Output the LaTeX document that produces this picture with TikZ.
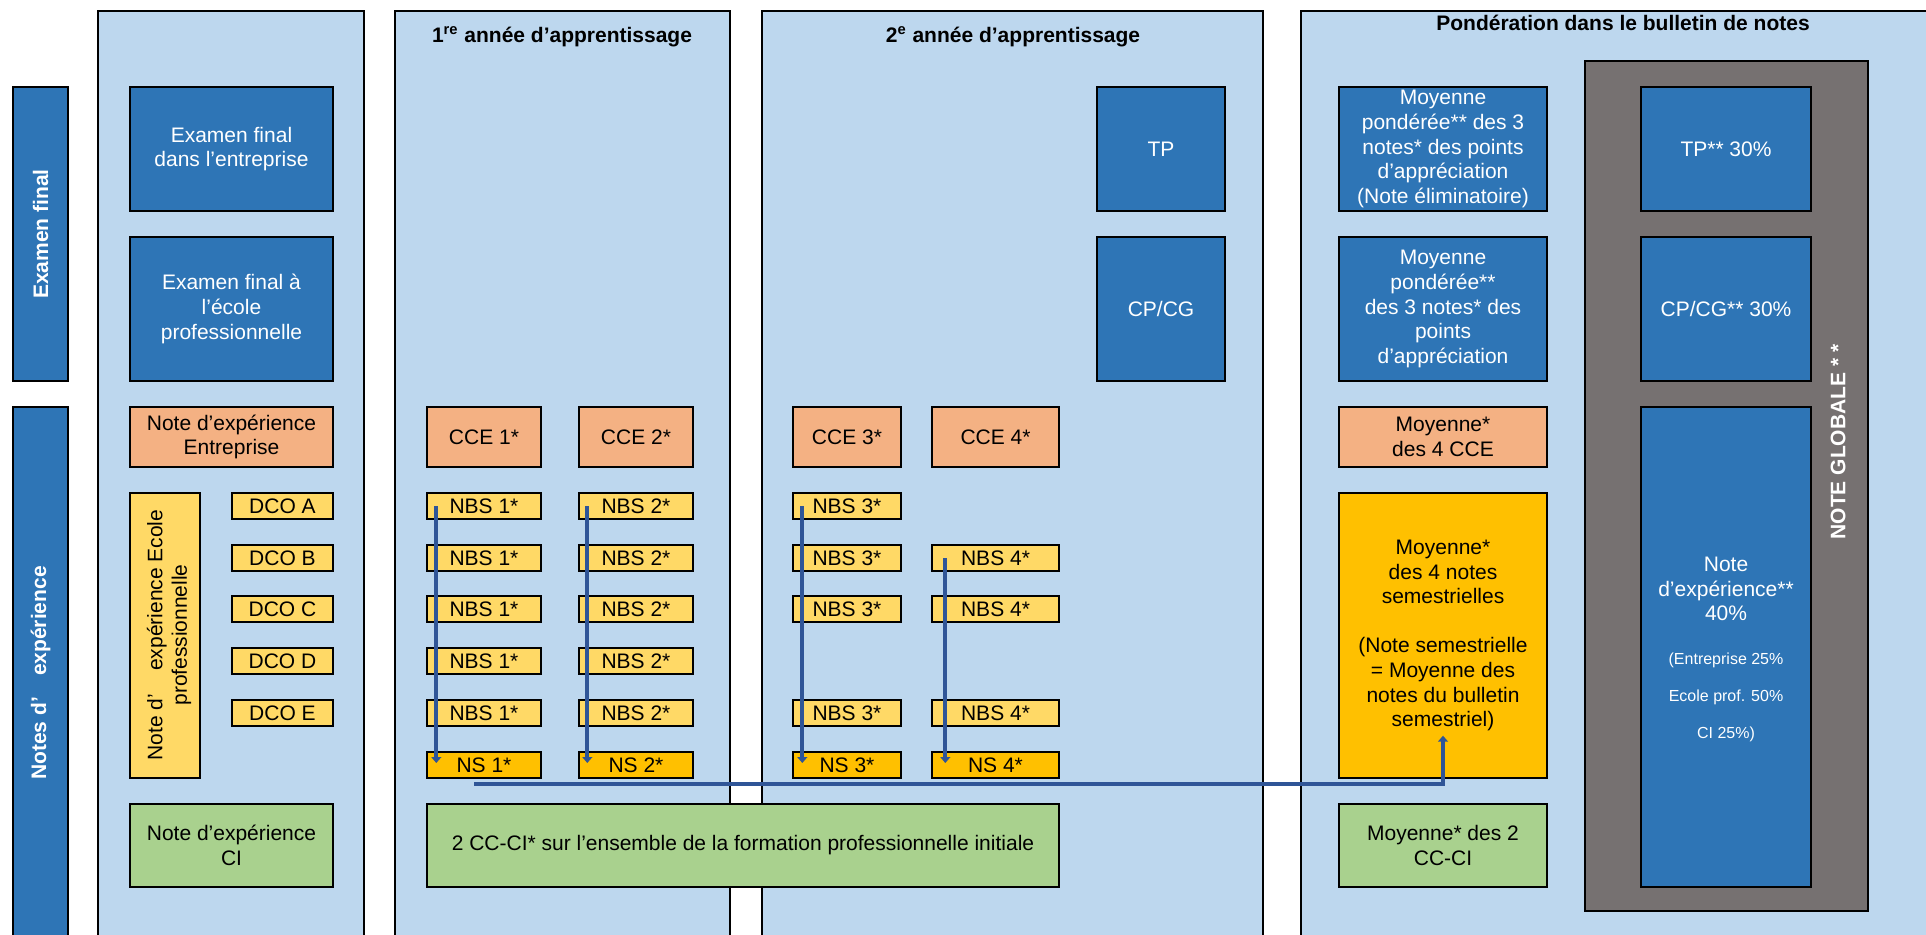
\documentclass[tikz,border=0pt]{standalone}
\usepackage{fontspec}
\setmainfont{Liberation Sans}
\usetikzlibrary{arrows.meta,calc}
\definecolor{panelc}{HTML}{BDD7EE}
\definecolor{dblue}{HTML}{2E75B6}
\definecolor{orangec}{HTML}{F4B183}
\definecolor{yellowc}{HTML}{FFD966}
\definecolor{goldc}{HTML}{FFC000}
\definecolor{greenc}{HTML}{A9D18E}
\definecolor{grayc}{HTML}{767171}
\definecolor{arrowc}{HTML}{2F5597}
\newcommand\fsz{\fontsize{10.5}{12.3}\selectfont}
\newcommand\bxnode[7]{\node[#1, minimum width={(#5-#3)*0.5pt}, minimum height={(#6-#4)*0.5pt}] (#2) at ({(#3+#5)/2},{(#4+#6)/2}) {#7};}
\tikzset{
  cbox/.style={draw=black, line width=0.7pt, inner sep=0pt, align=center, font=\fsz, text=black},
  panelb/.style={cbox, fill=panelc, line width=0.8pt},
  blueb/.style={cbox, fill=dblue, text=white},
  orb/.style={cbox, fill=orangec},
  yelb/.style={cbox, fill=yellowc},
  goldb/.style={cbox, fill=goldc},
  greenb/.style={cbox, fill=greenc},
  grayb/.style={cbox, fill=grayc},
  sidelbl/.style={rotate=90, text=white, font=\bfseries\fontsize{10.5}{12.5}\selectfont, inner sep=0pt},
  titlelbl/.style={font=\bfseries\fontsize{10.5}{12.5}\selectfont, inner sep=0pt},
  plain/.style={inner sep=0pt, align=center},
  arr/.style={draw=arrowc, line width=2pt, -{Triangle[width=5pt,length=3pt]}}
}
\begin{document}
\begin{tikzpicture}[x=0.5pt,y=-0.5pt]
\useasboundingbox (0,0) rectangle (1926,935);
% panels
\bxnode{panelb}{p1}{98}{11}{364}{960}{}
\bxnode{panelb}{p2}{395}{11}{730}{960}{}
\bxnode{panelb}{p3}{762}{11}{1263}{960}{}
\bxnode{panelb}{p4}{1301}{11}{1960}{960}{}
% titles
\node[titlelbl] (t2) at (562,37) {1\textsuperscript{re} année d’apprentissage};
\node[titlelbl] (t3) at (1013,37) {2\textsuperscript{e} année d’apprentissage};
\node[titlelbl] (t4) at (1623,23) {Pondération dans le bulletin de notes};
% side bars
\bxnode{blueb}{sbA}{13}{87}{68}{381}{}
\bxnode{blueb}{sbB}{13}{407}{68}{960}{}
\node[sidelbl] (lA) at (40.5,234) {Examen final};
\node[sidelbl] (lB) at (40.5,673) {Notes d’\hspace{1em}expérience};
% column 1
\bxnode{blueb}{efe}{130}{87}{333}{211}{Examen final\\dans l’entreprise}
\bxnode{blueb}{efs}{130}{237}{333}{381}{Examen final à\\l’école\\professionnelle}
\bxnode{orb}{nee}{130}{407}{333}{467}{Note d’expérience\\Entreprise}
\bxnode{yelb}{nes}{130}{493}{200}{778}{}
\node[plain, rotate=90, font=\fsz] (nesl) at (169,635) {Note d’\hspace{1.1em}expérience Ecole\\professionnelle};
\bxnode{yelb}{dA}{232}{493}{333}{519}{DCO A}
\bxnode{yelb}{dB}{232}{545}{333}{571}{DCO B}
\bxnode{yelb}{dC}{232}{596}{333}{622}{DCO C}
\bxnode{yelb}{dD}{232}{648}{333}{674}{DCO D}
\bxnode{yelb}{dE}{232}{700}{333}{726}{DCO E}
\bxnode{greenb}{nci}{130}{804}{333}{887}{Note d’expérience\\CI}
% year 1
\bxnode{orb}{cce1}{427}{407}{541}{467}{CCE 1*}
\bxnode{orb}{cce2}{579}{407}{693}{467}{CCE 2*}
\bxnode{yelb}{nA1}{427}{493}{541}{519}{NBS 1*}
\bxnode{yelb}{nB1}{427}{545}{541}{571}{NBS 1*}
\bxnode{yelb}{nC1}{427}{596}{541}{622}{NBS 1*}
\bxnode{yelb}{nD1}{427}{648}{541}{674}{NBS 1*}
\bxnode{yelb}{nE1}{427}{700}{541}{726}{NBS 1*}
\bxnode{goldb}{ns1}{427}{752}{541}{778}{NS 1*}
\bxnode{yelb}{nA2}{579}{493}{693}{519}{NBS 2*}
\bxnode{yelb}{nB2}{579}{545}{693}{571}{NBS 2*}
\bxnode{yelb}{nC2}{579}{596}{693}{622}{NBS 2*}
\bxnode{yelb}{nD2}{579}{648}{693}{674}{NBS 2*}
\bxnode{yelb}{nE2}{579}{700}{693}{726}{NBS 2*}
\bxnode{goldb}{ns2}{579}{752}{693}{778}{NS 2*}
\bxnode{greenb}{ccci}{427}{804}{1059}{887}{2 CC-CI* sur l’ensemble de la formation professionnelle initiale}
% year 2
\bxnode{blueb}{tp}{1097}{87}{1225}{211}{TP}
\bxnode{blueb}{cpcg}{1097}{237}{1225}{381}{CP/CG}
\bxnode{orb}{cce3}{793}{407}{901}{467}{CCE 3*}
\bxnode{orb}{cce4}{932}{407}{1059}{467}{CCE 4*}
\bxnode{yelb}{nA3}{793}{493}{901}{519}{NBS 3*}
\bxnode{yelb}{nB3}{793}{545}{901}{571}{NBS 3*}
\bxnode{yelb}{nC3}{793}{596}{901}{622}{NBS 3*}
\bxnode{yelb}{nE3}{793}{700}{901}{726}{NBS 3*}
\bxnode{goldb}{ns3}{793}{752}{901}{778}{NS 3*}
\bxnode{yelb}{nB4}{932}{545}{1059}{571}{NBS 4*}
\bxnode{yelb}{nC4}{932}{596}{1059}{622}{NBS 4*}
\bxnode{yelb}{nE4}{932}{700}{1059}{726}{NBS 4*}
\bxnode{goldb}{ns4}{932}{752}{1059}{778}{NS 4*}
% ponderation
\bxnode{blueb}{mp1}{1339}{87}{1547}{211}{Moyenne\\pondérée** des 3\\notes* des points\\d’appréciation\\(Note éliminatoire)}
\bxnode{blueb}{mp2}{1339}{237}{1547}{381}{Moyenne\\pondérée**\\des 3 notes* des\\points\\d’appréciation}
\bxnode{orb}{mcce}{1339}{407}{1547}{467}{Moyenne*\\des 4 CCE}
\bxnode{goldb}{msem}{1339}{493}{1547}{778}{Moyenne*\\des 4 notes\\semestrielles\\[12.3pt](Note semestrielle\\= Moyenne des\\notes du bulletin\\semestriel)}
\bxnode{greenb}{mci}{1339}{804}{1547}{887}{Moyenne* des 2\\CC-CI}
\bxnode{grayb}{gray}{1585}{61}{1868}{911}{}
\bxnode{blueb}{tpw}{1641}{87}{1811}{211}{TP** 30\%}
\bxnode{blueb}{cpw}{1641}{237}{1811}{381}{CP/CG** 30\%}
\bxnode{blueb}{new}{1641}{407}{1811}{887}{}
\node[plain, text=white, font=\fsz] (new1) at (1726,589) {Note\\d’expérience**\\40\%};
\node[plain, text=white, font=\fontsize{8}{18.5}\selectfont] (new2) at (1726,697) {(Entreprise 25\%\\Ecole prof. 50\%\\CI 25\%)};
\node[sidelbl] (glob) at (1838,442) {NOTE GLOBALE * *};
% arrows
\draw[arr] ($(nA1.west)+(10,0)$) -- ($(ns1.west)+(10,-2)$);
\draw[arr] ($(nA2.west)+(9,0)$) -- ($(ns2.west)+(9,-2)$);
\draw[arr] ($(nA3.west)+(10,0)$) -- ($(ns3.west)+(10,-2)$);
\draw[arr] ($(nB4.west)+(14,0)$) -- ($(ns4.west)+(14,-2)$);
\draw[arr] ($(ns1.south)+(-10,5)$) -| ($(msem.south)+(0,-43)$);
\end{tikzpicture}
\end{document}
